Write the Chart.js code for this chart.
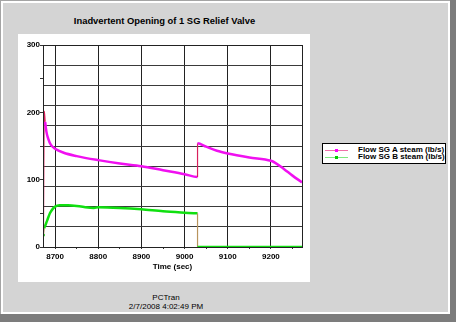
<!DOCTYPE html>
<html>
<head>
<meta charset="utf-8">
<title>Inadvertent Opening of 1 SG Relief Valve</title>
<script src="https://cdn.jsdelivr.net/npm/chart.js@4"></script>
<style>
  html, body { margin: 0; padding: 0; }
  body { width: 456px; height: 322px; background: #7c7c7c; position: relative; overflow: hidden;
         font-family: 'Liberation Sans', Arial, sans-serif; }
  #panel { position: absolute; left: 0; top: 0; width: 449px; height: 313px; background: #d4d4d4;
           border-top: 1px solid #a4a4a4; border-left: 1px solid #a4a4a4;
           box-shadow: inset 2px 2px 0 #fff, inset -2px -2px 0 #fff; }
  #plotBox { position: absolute; left: 18px; top: 34px; width: 292px; height: 248px; background: #fff; }
  #title { position: absolute; left: 0; width: 329px; top: 15px; text-align: center;
           font-size: 9.4px; font-weight: bold; color: #000; }
  #legend { position: absolute; left: 322px; top: 143px; width: 122px; height: 19px;
            background: #fff; border: 1px solid #000; }
  .row { position: absolute; left: 0; height: 7px; width: 122px; }
  .row .ln { position: absolute; left: 2px; top: 3px; width: 23px; height: 1px; }
  .row .dot { position: absolute; left: 12px; top: 2px; width: 3px; height: 3px; }
  .row span { position: absolute; left: 35px; top: -2px; font-size: 8px; font-weight: bold;
              white-space: nowrap; line-height: 10px; }
  #footer { position: absolute; left: 0; width: 332px; top: 293px; text-align: center;
            font-size: 8px; line-height: 9px; color: #000; }
</style>
</head>
<body>
<div id="panel"></div>
<div id="plotBox"><canvas id="chart" width="292" height="248"></canvas></div>
<div id="title">Inadvertent Opening of 1 SG Relief Valve</div>
<div id="legend">
  <div class="row" style="top:3px"><div class="ln" style="background:#f070a8"></div><div class="dot" style="background:#ff00ff"></div><span>Flow SG A steam (lb/s)</span></div>
  <div class="row" style="top:10px"><div class="ln" style="background:#80e880"></div><div class="dot" style="background:#00d000"></div><span>Flow SG B steam (lb/s)</span></div>
</div>
<div id="footer">PCTran<br>2/7/2008 4:02:49 PM</div>

<script>
// ---- series data (time in sec, steam flow in lb/s) ----
const sgATime = [8673, 8675, 8677, 8680, 8684, 8690, 8700, 8720, 8750, 8800, 8850, 8900, 8950, 9000, 9030,
                 9030, 9050, 9075, 9100, 9150, 9200, 9210, 9230, 9250, 9272];
const sgAFlow = [15, 202, 186, 171, 161, 152, 146, 140, 135, 129, 124, 120, 114, 108, 104,
                 154, 149, 143, 139, 133, 128, 125, 116, 106, 96];

const sgBTime = [8673, 8675, 8678, 8682, 8688, 8695, 8700, 8710, 8730, 8760, 8790, 8800, 8850, 8900, 8950, 9000, 9030,
                 9030, 9100, 9200, 9272];
const sgBFlow = [18, 28, 33, 40, 50, 57, 60, 62, 62, 60, 58, 59, 58, 56, 53, 51, 50,
                 0, 0, 0, 0];

// ---- axes ----
const xMin = 8672, xMax = 9272;
const xLabelTicks = [8700, 8800, 8900, 9000, 9100, 9200];
const xMinorTicks = [8750, 8850, 8950, 9050, 9150, 9250];
const yLabelTicks = [0, 100, 200, 300];
const yMinorTicks = [50, 150, 250];
const yGridLines = [30, 60, 90, 120, 150, 180, 210, 240, 270, 300];

const tickFont = { family: "'Liberation Sans', Arial, sans-serif", size: 8, weight: 'bold' };

function toPoints(xs, ys) {
  return xs.map((x, i) => ({ x: x, y: ys[i] }));
}

// near-vertical jumps are drawn as a thin line
function isJump(ctx) {
  return Math.abs(ctx.p1.parsed.x - ctx.p0.parsed.x) < 3;
}

function makeTicks(lists) {
  const vals = [...new Set([].concat(...lists))].sort((a, b) => a - b);
  return vals.map(v => ({ value: v }));
}

// box round the plot area
const frame = {
  id: 'frame',
  afterDraw(chart) {
    const a = chart.chartArea, c = chart.ctx;
    c.save();
    c.strokeStyle = '#222';
    c.lineWidth = 1;
    c.strokeRect(Math.round(a.left) + 0.5, Math.round(a.top) + 0.5,
                 Math.round(a.right - a.left), Math.round(a.bottom - a.top));
    c.restore();
  }
};

new Chart(document.getElementById('chart'), {
  type: 'line',
  data: {
    datasets: [
      {
        label: 'Flow SG A steam (lb/s)',
        data: toPoints(sgATime, sgAFlow),
        borderColor: '#f010f0',
        borderWidth: 2.5,
        pointRadius: 0,
        cubicInterpolationMode: 'monotone',
        segment: {
          borderWidth: ctx => isJump(ctx) ? 1.2 : undefined,
          borderColor: ctx => isJump(ctx) ? '#d8205c' : undefined
        }
      },
      {
        label: 'Flow SG B steam (lb/s)',
        data: toPoints(sgBTime, sgBFlow),
        borderColor: '#10e010',
        backgroundColor: '#10d010',
        borderWidth: 2.5,
        pointRadius: ctx => ctx.dataIndex === 0 ? 1.5 : 0,
        pointBorderWidth: 0,
        cubicInterpolationMode: 'monotone',
        segment: {
          borderWidth: ctx => isJump(ctx) ? 1.2 : undefined,
          borderColor: ctx => isJump(ctx) ? '#b8945c' : undefined
        }
      }
    ]
  },
  options: {
    responsive: false,
    animation: false,
    devicePixelRatio: 1,
    layout: { padding: { left: 0, top: 11, right: 8, bottom: 0 } },
    plugins: { legend: { display: false }, tooltip: { enabled: false }, title: { display: false } },
    scales: {
      x: {
        type: 'linear',
        min: xMin,
        max: xMax,
        afterBuildTicks: s => { s.ticks = makeTicks([xLabelTicks, xMinorTicks]); },
        afterFit: s => { s.height = 35; },
        ticks: {
          autoSkip: false,
          maxRotation: 0,
          padding: 3,
          color: '#000',
          font: tickFont,
          callback: v => xLabelTicks.includes(v) ? String(v) : ''
        },
        grid: {
          color: ctx => ctx.tick && xLabelTicks.includes(ctx.tick.value) ? '#222' : 'rgba(0,0,0,0)',
          tickColor: '#333',
          tickLength: 2,
          drawTicks: true
        },
        border: { display: true, color: '#333', width: 1 },
        title: {
          display: true,
          text: 'Time (sec)',
          color: '#000',
          font: tickFont,
          padding: { top: 0, bottom: 10 }
        }
      },
      y: {
        type: 'linear',
        min: 0,
        max: 300,
        afterBuildTicks: s => { s.ticks = makeTicks([yLabelTicks, yMinorTicks, yGridLines]); },
        afterFit: s => { s.width = 25; },
        ticks: {
          autoSkip: false,
          padding: 0,
          color: '#000',
          font: tickFont,
          callback: v => yLabelTicks.includes(v) ? String(v) : ''
        },
        grid: {
          color: ctx => ctx.tick && yGridLines.includes(ctx.tick.value) ? '#3a3a3a' : 'rgba(0,0,0,0)',
          tickColor: ctx => ctx.tick && (yLabelTicks.includes(ctx.tick.value) || yMinorTicks.includes(ctx.tick.value)) ? '#333' : 'rgba(0,0,0,0)',
          tickLength: 3,
          drawTicks: true
        },
        border: { display: true, color: '#333', width: 1 }
      }
    }
  },
  plugins: [frame]
});
</script>
</body>
</html>
